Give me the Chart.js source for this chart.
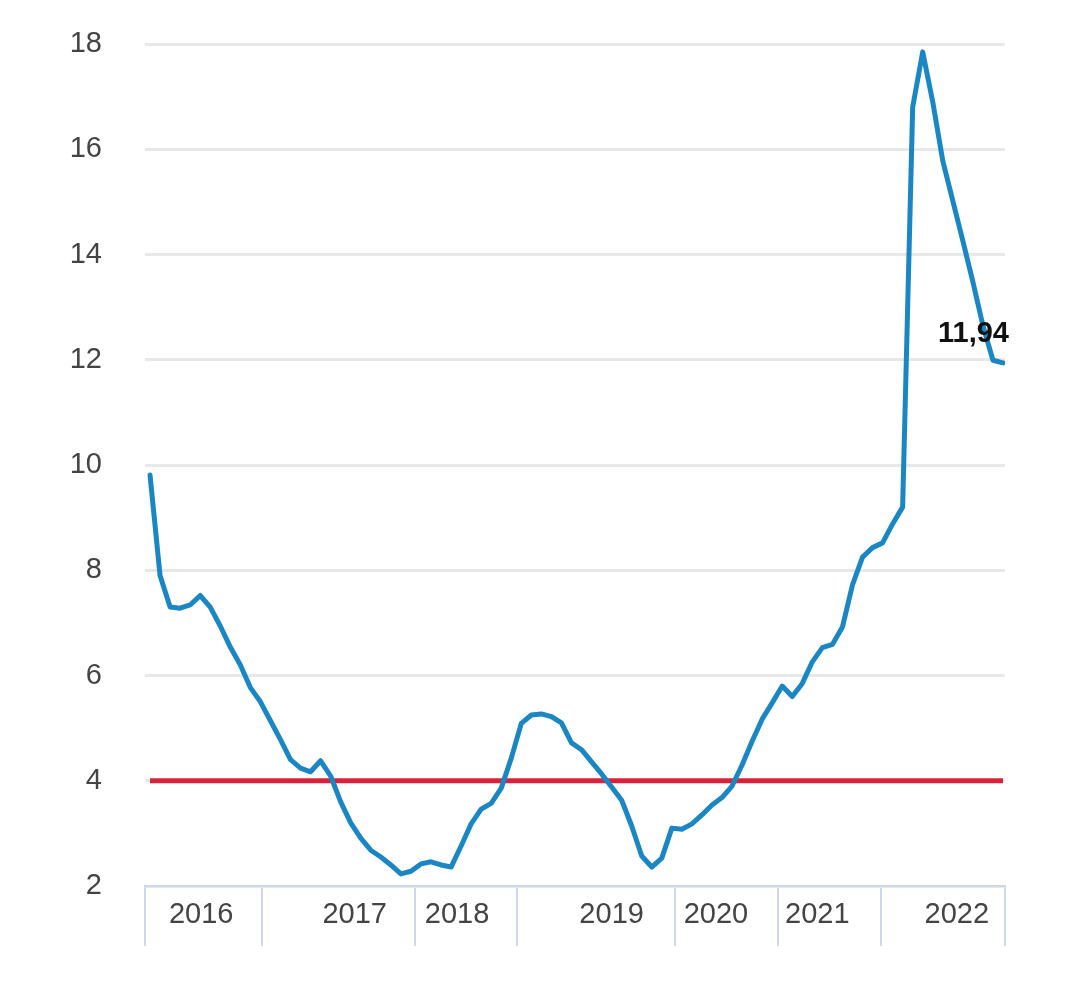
<!DOCTYPE html>
<html>
<head>
<meta charset="utf-8">
<script src="https://cdn.jsdelivr.net/npm/chart.js@4"></script>
<style>
  html, body { margin: 0; padding: 0; background: #fff; }
  #wrap { width: 1080px; height: 991px; }
</style>
</head>
<body>
<div id="wrap"><canvas id="rateChart" width="1080" height="991"></canvas></div>
<script>
// data
const rateValues = [
  9.81, 7.90, 7.30, 7.28, 7.34, 7.52, 7.30, 6.94, 6.54, 6.20,
  5.77, 5.50, 5.14, 4.78, 4.40, 4.24, 4.17, 4.38, 4.09, 3.60,
  3.20, 2.91, 2.68, 2.55, 2.40, 2.23, 2.28, 2.42, 2.46, 2.40,
  2.36, 2.76, 3.18, 3.46, 3.57, 3.86, 4.43, 5.09, 5.25, 5.27,
  5.22, 5.10, 4.72, 4.59, 4.36, 4.13, 3.88, 3.63, 3.14, 2.57,
  2.36, 2.53, 3.10, 3.08, 3.18, 3.35, 3.54, 3.68, 3.90, 4.30,
  4.75, 5.17, 5.48, 5.80, 5.60, 5.85, 6.26, 6.53, 6.59, 6.92,
  7.72, 8.25, 8.43, 8.52, 8.88, 9.20, 16.80, 17.85, 16.90, 15.78,
  15.02, 14.26, 13.48, 12.65, 11.99, 11.94
];
const targetRate = 4;

const years = ["2016", "2017", "2018", "2019", "2020", "2021", "2022"];
const yearLabelAt = [5.1, 20.4, 30.6, 46.0, 56.4, 66.5, 80.4];
const yearBounds = [-0.5, 11.2, 26.4, 36.6, 52.3, 62.6, 72.8, 85.2];

const yMin = 2;
const yMax = 18;
const yStep = 2;

const FONT = "'Liberation Sans', Arial, sans-serif";
const AXIS_COLOR = "#cfd8ea";

const points = rateValues.map((v, i) => ({ x: i, y: v }));
const targetPoints = rateValues.map((v, i) => ({ x: i, y: targetRate }));

// x ticks: band borders (no label) + year labels
const xTicks = yearBounds.map(v => ({ value: v, label: "" }))
  .concat(yearLabelAt.map((v, i) => ({ value: v, label: years[i] })))
  .sort((a, b) => a.value - b.value);

const lastLabel = {
  id: "lastLabel",
  afterDatasetsDraw(chart) {
    const meta = chart.getDatasetMeta(0);
    const pt = meta.data[meta.data.length - 1];
    const val = rateValues[rateValues.length - 1];
    const ctx = chart.ctx;
    ctx.save();
    ctx.font = "bold 29px " + FONT;
    ctx.fillStyle = "#111";
    ctx.textAlign = "right";
    ctx.textBaseline = "middle";
    ctx.fillText(val.toFixed(2).replace(".", ","), pt.x + 6, pt.y - 29);
    ctx.restore();
  }
};

const ctx = document.getElementById("rateChart").getContext("2d");
new Chart(ctx, {
  type: "line",
  data: {
    datasets: [
      {
        data: points,
        borderColor: "#1a87c4",
        borderWidth: 5,
        pointRadius: 0,
        tension: 0,
        borderJoinStyle: "round",
        borderCapStyle: "round"
      },
      {
        data: targetPoints,
        borderColor: "#d8223c",
        borderWidth: 5,
        pointRadius: 0,
        tension: 0
      }
    ]
  },
  options: {
    responsive: false,
    animation: false,
    layout: { padding: { top: 44, right: 75, bottom: 25, left: 0 } },
    plugins: { legend: { display: false }, tooltip: { enabled: false } },
    scales: {
      x: {
        type: "linear",
        min: yearBounds[0],
        max: yearBounds[yearBounds.length - 1],
        afterBuildTicks: (scale) => {
          scale.ticks = xTicks.map(t => ({ value: t.value }));
        },
        afterFit: (scale) => {
          scale.height = 80;
          scale.paddingLeft = 0;
          scale.paddingRight = 0;
        },
        ticks: {
          autoSkip: false,
          maxRotation: 0,
          padding: -48,
          color: "#444",
          font: { family: FONT, size: 29 },
          callback: (value, index) => xTicks[index] ? xTicks[index].label : ""
        },
        grid: {
          drawOnChartArea: false,
          drawTicks: true,
          tickLength: 60,
          lineWidth: 2,
          tickColor: (c) => (c.tick && yearBounds.includes(c.tick.value)) ? AXIS_COLOR : "rgba(0,0,0,0)"
        },
        border: { display: true, color: AXIS_COLOR, width: 2 }
      },
      y: {
        min: yMin,
        max: yMax,
        afterFit: (scale) => {
          scale.width = 145;
          scale.paddingTop = 0;
          scale.paddingBottom = 0;
        },
        ticks: {
          stepSize: yStep,
          padding: 43,
          color: "#444",
          font: { family: FONT, size: 29 }
        },
        grid: { color: "#e8e8e8", lineWidth: 3, drawTicks: false },
        border: { display: false }
      }
    }
  },
  plugins: [lastLabel]
});
</script>
</body>
</html>
